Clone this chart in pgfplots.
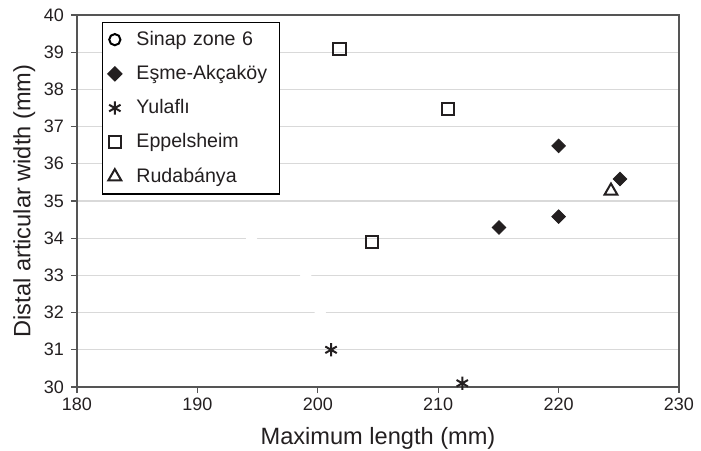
\documentclass[border=0pt]{standalone}
\usepackage{pgfplots}
\pgfplotsset{compat=1.18}
\usepackage{fontspec}
\setmainfont{Liberation Sans}
\definecolor{txt}{HTML}{231F20}
\definecolor{axc}{HTML}{555555}
\definecolor{gridc}{HTML}{D9D9D9}
\begin{document}
\begin{tikzpicture}
\begin{axis}[
  scale only axis,
  width=301pt, height=186pt,
  xmin=180, xmax=230, ymin=30, ymax=40,
  xtick={180,190,...,230}, ytick={30,31,...,40},
  tick align=outside, tick pos=left,
  major tick length=3pt,
  every tick/.style={axc, line width=0.6pt},
  axis line style={axc, line width=0.8pt},
  ymajorgrids, grid style={gridc, line width=0.6pt},
  tick label style={font=\fontsize{9}{10}\selectfont, text=txt},
  /pgf/number format/assume math mode=true,
  xticklabel style={yshift=1pt},
  xlabel={Maximum length (mm)}, ylabel={Distal articular width (mm)},
  label style={font=\fontsize{11.8}{13}\selectfont, text=txt},
  xlabel style={yshift=-1.5pt},
  ylabel style={yshift=-2.5pt},
  legend image code/.code={\path[draw=none,fill=none] (0pt,-1pt) rectangle (13pt,1pt);\draw[mark repeat=2,mark phase=2,#1] plot coordinates {(0pt,0pt) (5.2pt,0pt) (10.4pt,0pt)};},
  legend style={at={(rel axis cs:0.041,0.982)}, anchor=north west,
    draw=black, line width=0.75pt, font=\fontsize{9.8}{12}\selectfont, text=txt,
    row sep=4.5pt, inner xsep=1pt, inner ysep=2.3pt,
    legend cell align=left, text width=67.5pt,
    nodes={inner xsep=3pt}},
  clip=false,
]
\addplot[only marks, mark=*, mark size=2.6pt, draw=white, fill=white,
  legend image code/.code={\path[draw=none,fill=none] (0pt,-1pt) rectangle (13pt,1pt);\draw[black, fill=white, line width=1pt] (5.2pt,0pt) circle (2.8pt);}]
  coordinates {(194.5,34) (199.0,33) (200.2,32)};
\addlegendentry{Sinap zone 6}
\addplot[only marks, mark=square*, mark size=2.4pt, mark options={rotate=45}, draw=txt, fill=txt]
  coordinates {(220.0,36.48) (225.1,35.59) (220.0,34.58) (215.05,34.29)};
\addlegendentry{Eşme-Akçaköy}
\addplot[only marks, mark=asterisk, mark size=3.3pt, draw=txt, line width=1pt]
  coordinates {(201.1,31.0) (212.0,30.1)};
\addlegendentry{Yulaflı}
\addplot[only marks, mark=square, mark size=3.1pt, draw=txt, line width=1pt]
  coordinates {(201.8,39.08) (210.8,37.48) (204.5,33.9)};
\addlegendentry{Eppelsheim}
\addplot[only marks, mark=triangle, mark size=3.7pt, draw=txt, line width=1pt]
  coordinates {(224.35,35.27)};
\addlegendentry{Rudabánya}
\end{axis}
\pgfresetboundingbox
\path ([xshift=-38.5pt,yshift=-31.5pt]current axis.south west) rectangle ([xshift=11pt,yshift=7.5pt]current axis.north east);
\end{tikzpicture}
\end{document}
